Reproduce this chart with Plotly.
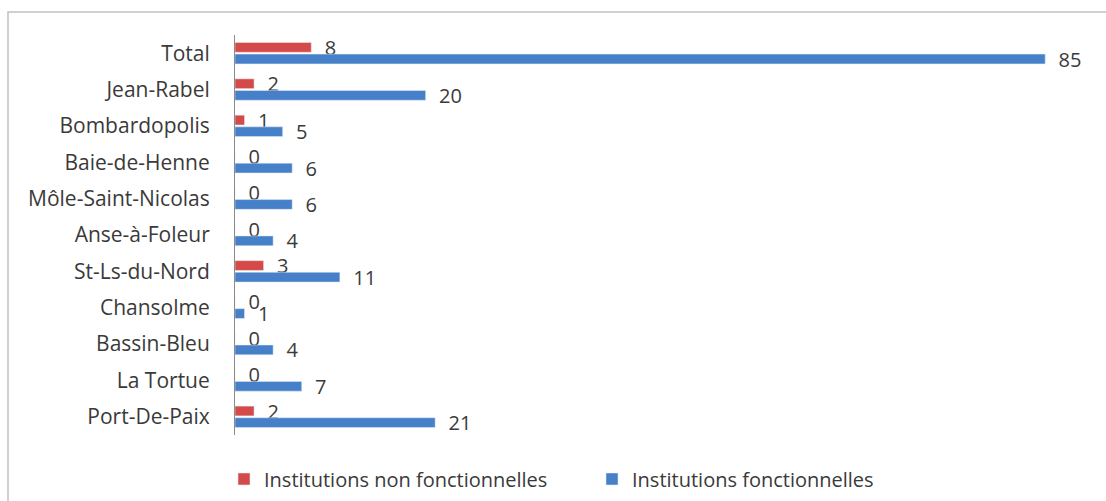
import plotly.graph_objects as go

categories = ["Total", "Jean-Rabel", "Bombardopolis", "Baie-de-Henne", "Môle-Saint-Nicolas",
              "Anse-à-Foleur", "St-Ls-du-Nord", "Chansolme", "Bassin-Bleu", "La Tortue", "Port-De-Paix"]
non_fonctionnelles = [8, 2, 1, 0, 0, 0, 3, 0, 0, 0, 2]
fonctionnelles = [85, 20, 5, 6, 6, 4, 11, 1, 4, 7, 21]
series_names = ["Institutions non fonctionnelles", "Institutions fonctionnelles"]

RED = "#D44A48"
BLUE = "#4680C8"
FONT = "Open Sans"
TXT = "#3a3a3a"

fig = go.Figure()
fig.add_trace(go.Bar(
    y=categories, x=non_fonctionnelles, orientation="h", name=series_names[0],
    marker=dict(color=RED), text=["  " + str(v) for v in non_fonctionnelles],
    textposition="outside", textfont=dict(family=FONT, size=20, color=TXT),
    constraintext="none", cliponaxis=False,
))
fig.add_trace(go.Bar(
    y=categories, x=fonctionnelles, orientation="h", name=series_names[1],
    marker=dict(color=BLUE), text=["  " + str(v) for v in fonctionnelles],
    textposition="outside", textfont=dict(family=FONT, size=20, color=TXT),
    constraintext="none", cliponaxis=False,
))

L, R, T, B = 235, 16, 35, 66
W, H = 1106, 501
pw = W - L - R
ph = H - T - B

def px_x(p):
    return (p - L) / pw

def px_y(p):
    return 1 - (p - T) / ph

fig.update_layout(
    width=W, height=H,
    margin=dict(l=L, r=R, t=T, b=B, autoexpand=False),
    paper_bgcolor="white", plot_bgcolor="white",
    barmode="group", bargap=0.36, bargroupgap=0.16,
    font=dict(family=FONT, size=20, color=TXT),
    showlegend=True,
    legend=dict(orientation="h", x=px_x(224), xanchor="left", y=px_y(479), yanchor="middle",
                font=dict(family=FONT, size=20, color=TXT), itemwidth=30,
                entrywidth=323, entrywidthmode="pixels", bgcolor="rgba(0,0,0,0)"),
    xaxis=dict(range=[0, 89.7], showgrid=False, zeroline=False, showticklabels=False,
               showline=False, fixedrange=True),
    yaxis=dict(autorange="reversed", showgrid=False, zeroline=False, showline=True,
               linecolor="#8a8a8a", linewidth=1, ticks="", ticklabelstandoff=20,
               tickfont=dict(family=FONT, size=21, color=TXT)),
    shapes=[dict(type="rect", xref="paper", yref="paper",
                 x0=px_x(8), x1=px_x(1140), y0=px_y(540), y1=px_y(12),
                 line=dict(color="#c4c0bc", width=1.5), fillcolor="rgba(0,0,0,0)", layer="below")],
)

fig.write_html("out.html", config={"displayModeBar": False},
               post_script="document.body.style.margin='0';")
